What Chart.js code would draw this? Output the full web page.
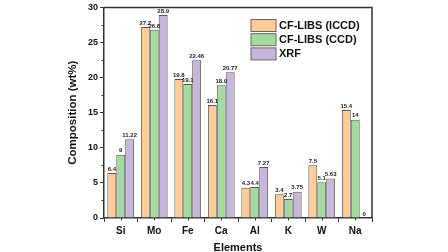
<!DOCTYPE html>
<html>
<head>
<meta charset="utf-8">
<script src="https://cdn.jsdelivr.net/npm/chart.js@4"></script>
<style>
  html, body { margin: 0; padding: 0; background: #fff; }
  #wrap { width: 448px; height: 252px; }
</style>
</head>
<body>
<div id="wrap"><canvas id="chart"></canvas></div>
<script>
const elements = ["Si", "Mo", "Fe", "Ca", "Al", "K", "W", "Na"];
const iccdValues = [6.4, 27.2, 19.8, 16.1, 4.3, 3.4, 7.5, 15.4];
const ccdValues = [9, 26.8, 19.1, 18.9, 4.4, 2.7, 5.1, 14];
const xrfValues = [11.22, 28.9, 22.46, 20.77, 7.27, 3.75, 5.63, 0];
const seriesNames = ["CF-LIBS (ICCD)", "CF-LIBS (CCD)", "XRF"];
const seriesColors = ["#FFCC99", "#A3DB9F", "#C8B6DA"];

const FONT = "'Liberation Sans', Arial, sans-serif";
const AXIS = "#333";

// bar value labels, frame, minor ticks and the in-plot legend
const extras = {
  id: "extras",
  afterDatasetsDraw(chart) {
    const ctx = chart.ctx;
    ctx.save();
    ctx.font = "bold 6px " + FONT;
    ctx.fillStyle = "#222";
    ctx.textAlign = "center";
    ctx.textBaseline = "bottom";
    chart.data.datasets.forEach((ds, i) => {
      chart.getDatasetMeta(i).data.forEach((bar, j) => {
        ctx.fillText(String(ds.data[j]), bar.x, bar.y - 1);
      });
    });
    ctx.restore();
  },
  afterDraw(chart) {
    const ctx = chart.ctx;
    const a = chart.chartArea;
    const x = chart.scales.x, y = chart.scales.y;
    ctx.save();
    ctx.strokeStyle = AXIS;
    ctx.lineWidth = 1.5;
    ctx.beginPath();
    ctx.moveTo(a.left, a.top);
    ctx.lineTo(a.right, a.top);
    ctx.lineTo(a.right, a.bottom);
    ctx.stroke();

    ctx.lineWidth = 1;
    ctx.beginPath();
    for (let v = 2.5; v < 30; v += 5) {
      const py = Math.round(y.getPixelForValue(v)) + 0.5;
      ctx.moveTo(a.left, py);
      ctx.lineTo(a.left - 2.5, py);
    }
    elements.forEach((e, i) => {
      const px = Math.round(x.getPixelForValue(i)) + 0.5;
      ctx.moveTo(px, a.bottom);
      ctx.lineTo(px, a.bottom + 2.5);
    });
    ctx.stroke();

    // legend
    const lx = 251, ly = 19.5, bw = 25, bh = 12, step = 14.2;
    ctx.font = "bold 11px " + FONT;
    ctx.textAlign = "left";
    ctx.textBaseline = "middle";
    seriesNames.forEach((name, i) => {
      const top = ly + i * step;
      ctx.fillStyle = seriesColors[i];
      ctx.fillRect(lx, top, bw, bh);
      ctx.strokeStyle = "#666";
      ctx.lineWidth = 1;
      ctx.strokeRect(lx, top, bw, bh);
      ctx.fillStyle = "#111";
      ctx.fillText(name, lx + bw + 3, top + bh / 2 + 0.5);
    });
    ctx.restore();
  }
};

const datasets = [iccdValues, ccdValues, xrfValues].map((vals, i) => ({
  label: seriesNames[i],
  data: vals,
  backgroundColor: seriesColors[i],
  borderColor: "#555",
  borderWidth: 1,
  categoryPercentage: 0.8,
  barPercentage: 1.0
}));

new Chart(document.getElementById("chart"), {
  type: "bar",
  data: { labels: elements, datasets: datasets },
  options: {
    responsive: true,
    maintainAspectRatio: false,
    animation: false,
    layout: { padding: { top: 4, right: 76, left: 0, bottom: 0 } },
    scales: {
      x: {
        afterFit: s => { s.height = 34; },
        grid: { drawOnChartArea: false, tickLength: 4, color: AXIS, tickWidth: 1 },
        border: { color: AXIS, width: 1.5 },
        ticks: { color: "#111", font: { family: FONT, size: 10, weight: "bold" }, padding: 3 },
        title: {
          display: true, text: "Elements", color: "#111",
          font: { family: FONT, size: 11, weight: "bold" },
          padding: { top: 0, bottom: -3 }
        }
      },
      y: {
        min: 0, max: 30,
        afterFit: s => { s.width = 104; },
        grid: { drawOnChartArea: false, tickLength: 4, color: AXIS, tickWidth: 1 },
        border: { color: AXIS, width: 1.5 },
        ticks: { stepSize: 5, color: "#111", font: { family: FONT, size: 9, weight: "bold" }, padding: 2 },
        title: {
          display: true, text: "Composition (wt%)", color: "#111",
          font: { family: FONT, size: 11.5, weight: "bold" },
          padding: { top: 66, bottom: 0 }
        }
      }
    },
    plugins: {
      legend: { display: false },
      tooltip: { enabled: false }
    }
  },
  plugins: [extras]
});
</script>
</body>
</html>
